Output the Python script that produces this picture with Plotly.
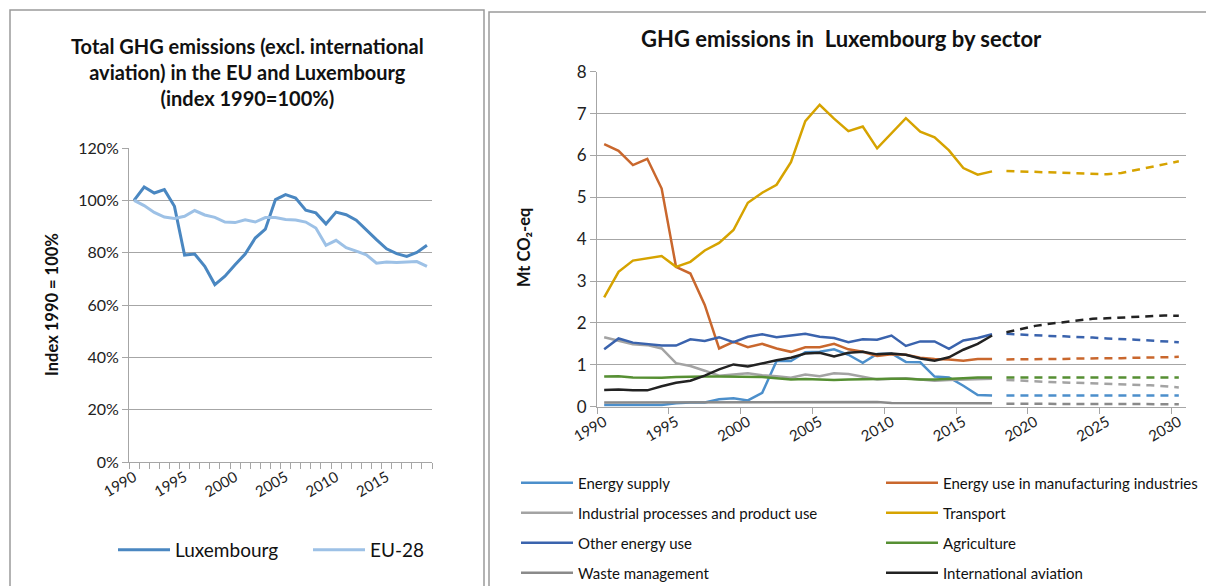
import plotly.graph_objects as go

W, H = 1206, 586


def px(x):
    return x / W


def py(y):
    return 1 - y / H


# ---------------- data: left chart ----------------
years_left = [1990, 1991, 1992, 1993, 1994, 1995, 1996, 1997, 1998, 1999,
              2000, 2001, 2002, 2003, 2004, 2005, 2006, 2007, 2008, 2009,
              2010, 2011, 2012, 2013, 2014, 2015, 2016, 2017, 2018, 2019]
luxembourg = [100, 105.1, 102.8, 104.1, 97.7, 79.1, 79.5, 74.8, 67.8, 71.0,
              75.4, 79.5, 85.6, 89.0, 100.3, 102.2, 100.9, 96.2, 95.2, 91.0,
              95.5, 94.5, 92.4, 88.5, 85.0, 81.5, 79.6, 78.6, 80.1, 82.8]
eu28 = [100, 98.0, 95.4, 93.6, 93.1, 93.9, 96.1, 94.4, 93.5, 91.7,
        91.5, 92.6, 91.7, 93.4, 93.4, 92.7, 92.5, 91.7, 89.4, 82.8,
        84.7, 81.9, 80.6, 79.2, 76.0, 76.4, 76.2, 76.4, 76.6, 74.8]

# ---------------- data: right chart ----------------
years_hist = [1990, 1991, 1992, 1993, 1994, 1995, 1996, 1997, 1998, 1999,
              2000, 2001, 2002, 2003, 2004, 2005, 2006, 2007, 2008, 2009,
              2010, 2011, 2012, 2013, 2014, 2015, 2016, 2017]
years_proj = [2018, 2019, 2020, 2021, 2022, 2023, 2024, 2025, 2026, 2027,
              2028, 2029, 2030]

energy_supply_hist = [0.04, 0.04, 0.04, 0.04, 0.04, 0.08, 0.10, 0.10, 0.18, 0.20,
                      0.15, 0.33, 1.09, 1.09, 1.30, 1.31, 1.37, 1.24, 1.05, 1.26,
                      1.27, 1.07, 1.06, 0.72, 0.70, 0.50, 0.28, 0.27]
energy_supply_proj = [0.27, 0.27, 0.27, 0.27, 0.27, 0.27, 0.27, 0.27, 0.27, 0.27,
                      0.27, 0.27, 0.27]

manufacturing_hist = [6.27, 6.11, 5.77, 5.92, 5.21, 3.34, 3.18, 2.43, 1.39, 1.55,
                      1.42, 1.50, 1.39, 1.31, 1.42, 1.42, 1.50, 1.37, 1.31, 1.21,
                      1.25, 1.24, 1.17, 1.14, 1.13, 1.10, 1.14, 1.14]
manufacturing_proj = [1.13, 1.13, 1.13, 1.14, 1.14, 1.15, 1.15, 1.16, 1.16, 1.17,
                      1.17, 1.18, 1.19]

industrial_hist = [1.66, 1.57, 1.49, 1.47, 1.39, 1.04, 0.97, 0.86, 0.74, 0.77,
                   0.80, 0.75, 0.73, 0.69, 0.77, 0.73, 0.80, 0.78, 0.72, 0.65,
                   0.67, 0.68, 0.65, 0.62, 0.64, 0.65, 0.66, 0.67]
industrial_proj = [0.64, 0.62, 0.60, 0.59, 0.58, 0.57, 0.56, 0.55, 0.54, 0.52,
                   0.51, 0.49, 0.46]

transport_hist = [2.61, 3.22, 3.49, 3.54, 3.60, 3.34, 3.46, 3.73, 3.91, 4.22,
                  4.87, 5.11, 5.30, 5.84, 6.82, 7.21, 6.88, 6.58, 6.69, 6.17,
                  6.53, 6.89, 6.57, 6.43, 6.12, 5.70, 5.54, 5.62]
transport_proj = [5.63, 5.62, 5.61, 5.60, 5.59, 5.58, 5.56, 5.55, 5.58, 5.65,
                  5.72, 5.79, 5.86]

other_energy_hist = [1.37, 1.63, 1.53, 1.50, 1.46, 1.46, 1.61, 1.57, 1.66, 1.54,
                     1.67, 1.73, 1.66, 1.70, 1.74, 1.67, 1.64, 1.54, 1.61, 1.60,
                     1.70, 1.45, 1.56, 1.56, 1.38, 1.58, 1.64, 1.73]
other_energy_proj = [1.74, 1.72, 1.71, 1.69, 1.68, 1.67, 1.65, 1.63, 1.62, 1.60,
                     1.58, 1.56, 1.54]

agriculture_hist = [0.72, 0.73, 0.70, 0.70, 0.69, 0.71, 0.72, 0.72, 0.72, 0.72,
                    0.72, 0.71, 0.68, 0.65, 0.66, 0.65, 0.64, 0.65, 0.66, 0.66,
                    0.67, 0.67, 0.65, 0.65, 0.66, 0.68, 0.70, 0.70]
agriculture_proj = [0.70, 0.70, 0.70, 0.70, 0.70, 0.70, 0.70, 0.70, 0.70, 0.70,
                    0.70, 0.70, 0.70]

waste_hist = [0.10, 0.10, 0.10, 0.10, 0.10, 0.10, 0.10, 0.10, 0.10, 0.10,
              0.10, 0.10, 0.10, 0.11, 0.11, 0.11, 0.11, 0.11, 0.11, 0.11,
              0.09, 0.09, 0.08, 0.08, 0.08, 0.08, 0.08, 0.08]
waste_proj = [0.07, 0.07, 0.07, 0.07, 0.07, 0.07, 0.07, 0.07, 0.07, 0.06,
              0.06, 0.06, 0.06]

aviation_hist = [0.40, 0.41, 0.39, 0.39, 0.49, 0.57, 0.62, 0.74, 0.89, 1.01,
                 0.96, 1.04, 1.11, 1.17, 1.27, 1.29, 1.20, 1.29, 1.31, 1.25,
                 1.27, 1.24, 1.15, 1.10, 1.18, 1.36, 1.50, 1.70]
aviation_proj = [1.78, 1.86, 1.93, 1.98, 2.02, 2.06, 2.10, 2.11, 2.13, 2.14,
                 2.16, 2.18, 2.17]

sector_names = ["Energy supply", "Energy use in manufacturing industries",
                "Industrial processes and product use", "Transport",
                "Other energy use", "Agriculture", "Waste management",
                "International aviation"]
sector_hist = [energy_supply_hist, manufacturing_hist, industrial_hist, transport_hist,
               other_energy_hist, agriculture_hist, waste_hist, aviation_hist]
sector_proj = [energy_supply_proj, manufacturing_proj, industrial_proj, transport_proj,
               other_energy_proj, agriculture_proj, waste_proj, aviation_proj]
sector_colors = ["#4C8FCB", "#C9672D", "#A3A3A3", "#D6A300",
                 "#3A63AD", "#568F33", "#8A8A8A", "#222222"]

FONT = "Lato, 'Open Sans', sans-serif"
GRID = "#A6A6A6"
TXT = "#111111"

fig = go.Figure()

# ----- left chart -----
left_series = [("Luxembourg", luxembourg, "#4A87C1"), ("EU-28", eu28, "#9DC1E6")]
left_leg_x = [113, 308]
for i, (name, vals, color) in enumerate(left_series):
    lg = "legend" if i == 0 else "legend2"
    fig.add_trace(go.Scatter(x=years_left, y=vals, name=name, mode="lines",
                             line=dict(color=color, width=3), xaxis="x", yaxis="y",
                             legend=lg, showlegend=True))
    fig.update_layout(**{lg: dict(x=px(left_leg_x[i]), y=py(550), xanchor="left",
                                  yanchor="middle", itemwidth=52, visible=True,
                                  font=dict(family=FONT, size=19, color=TXT),
                                  bgcolor="rgba(0,0,0,0)")})

# ----- right chart -----
col_x = [516, 881]
row_y = [483, 513, 543, 573]
for i, name in enumerate(sector_names):
    lg = "legend%d" % (i + 3)
    fig.add_trace(go.Scatter(x=years_hist, y=sector_hist[i], name=name, mode="lines",
                             line=dict(color=sector_colors[i], width=2.5),
                             xaxis="x2", yaxis="y2", legend=lg, legendgroup=name,
                             showlegend=True))
    fig.update_layout(**{lg: dict(x=px(col_x[i % 2]), y=py(row_y[i // 2]),
                                  xanchor="left", yanchor="middle", itemwidth=52,
                                  font=dict(family=FONT, size=15, color=TXT),
                                  bgcolor="rgba(0,0,0,0)")})
for i, name in enumerate(sector_names):
    fig.add_trace(go.Scatter(x=years_proj, y=sector_proj[i], name=name, mode="lines",
                             line=dict(color=sector_colors[i], width=2.5, dash="8px,6px"),
                             xaxis="x2", yaxis="y2", legend="legend%d" % (i + 3),
                             legendgroup=name, showlegend=False))

base_axis = dict(showline=True, linecolor=GRID, linewidth=1, zeroline=False)

fig.update_layout(
    width=W, height=H, showlegend=True,
    margin=dict(l=0, r=0, t=0, b=0, autoexpand=False),
    paper_bgcolor="white", plot_bgcolor="white",
    font=dict(family=FONT, color=TXT),
    xaxis=dict(domain=[px(129), px(432)], range=[1989.5, 2019.5], anchor="y",
               tickmode="linear", tick0=1990, dtick=5, ticks="", tickangle=-30,
               showgrid=False, tickfont=dict(family=FONT, size=15, color="#222"),
               minor=dict(ticks="outside", ticklen=6, tick0=1989.5, dtick=1,
                          tickcolor=GRID, showgrid=False),
               **base_axis),
    yaxis=dict(domain=[py(462), py(148)], range=[0, 120], anchor="x",
               tickmode="linear", tick0=0, dtick=20, ticksuffix="%",
               ticks="outside", ticklen=6, tickcolor=GRID,
               showgrid=True, gridcolor=GRID, gridwidth=1,
               tickfont=dict(family=FONT, size=16, color="#222"), **base_axis),
    xaxis2=dict(domain=[px(597), px(1186)], range=[1989.5, 2030.5], anchor="y2",
                tickmode="linear", tick0=1990, dtick=5, ticks="", tickangle=-30,
                showgrid=False, tickfont=dict(family=FONT, size=15, color="#222"),
                minor=dict(ticks="outside", ticklen=6, tick0=1989.5, dtick=5,
                           tickcolor=GRID, showgrid=False),
                **base_axis),
    yaxis2=dict(domain=[py(406.7), py(71.7)], range=[0, 8], anchor="x2",
                tickmode="linear", tick0=0, dtick=1,
                ticks="outside", ticklen=6, tickcolor=GRID,
                showgrid=True, gridcolor=GRID, gridwidth=1,
                tickfont=dict(family=FONT, size=17, color="#222"), **base_axis),
)

annotations = [
    dict(text="<b>Total GHG emissions (excl. international<br>aviation) in the EU and Luxembourg<br>(index 1990=100%)</b>",
         x=px(247), y=py(72), xanchor="center", yanchor="middle", showarrow=False,
         font=dict(family=FONT, size=20, color=TXT), align="center"),
    dict(text="<b>GHG emissions in  Luxembourg by sector</b>",
         x=px(841), y=py(39), xanchor="center", yanchor="middle", showarrow=False,
         font=dict(family=FONT, size=22, color=TXT)),
    dict(text="<b>Index 1990 = 100%</b>", x=px(52), y=py(305), textangle=-90,
         xanchor="center", yanchor="middle", showarrow=False,
         font=dict(family=FONT, size=16.5, color=TXT)),
    dict(text="<b>Mt CO₂-eq</b>", x=px(524), y=py(248), textangle=-90,
         xanchor="center", yanchor="middle", showarrow=False,
         font=dict(family=FONT, size=16.5, color=TXT)),
]
for a in annotations:
    a.update(xref="paper", yref="paper")
fig.update_layout(annotations=annotations)

# chart frames
fig.update_layout(shapes=[
    dict(type="rect", xref="paper", yref="paper", x0=px(10), x1=px(484), y0=py(600), y1=py(10),
         line=dict(color="#9A9A9A", width=1.5)),
    dict(type="rect", xref="paper", yref="paper", x0=px(489), x1=px(1220), y0=py(600), y1=py(12),
         line=dict(color="#9A9A9A", width=1.5)),
])

fig.write_html("out.html", config={"displayModeBar": False},
               post_script="document.body.style.margin='0';document.body.style.overflow='hidden';")
